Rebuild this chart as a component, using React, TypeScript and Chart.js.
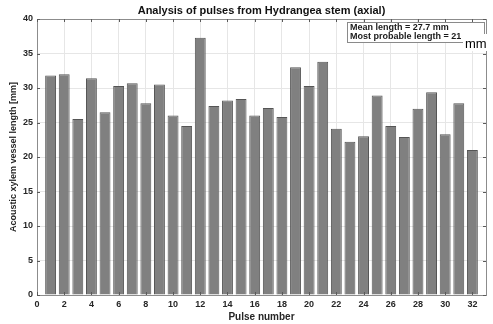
import React, { useEffect, useRef } from "react";
import { Chart, registerables } from "chart.js";

Chart.register(...registerables);

// ---- data ----
const pulseNumbers = [
  1, 2, 3, 4, 5, 6, 7, 8, 9, 10, 11, 12, 13, 14, 15, 16,
  17, 18, 19, 20, 21, 22, 23, 24, 25, 26, 27, 28, 29, 30, 31, 32,
];
const vesselLengths = [
  31.8, 32.0, 25.5, 31.4, 26.5, 30.3, 30.7, 27.8, 30.5, 26.0, 24.5, 37.3, 27.4, 28.2, 28.4, 26.0,
  27.1, 25.8, 33.0, 30.3, 33.8, 24.1, 22.2, 23.0, 28.9, 24.5, 22.9, 27.0, 29.4, 23.3, 27.8, 21.0,
];
const xMin = 0;
const xMax = 33;
const xStep = 2;
const yMin = 0;
const yMax = 40;
const yStep = 5;
const titleText = "Analysis of pulses from Hydrangea stem (axial)";
const xAxisTitle = "Pulse number";
const yAxisTitle = "Acoustic xylem vessel length [mm]";
const infoLine1 = "Mean length = 27.7 mm";
const infoLine2 = "Most probable length = 21 mm";
const overlayUnit = "mm";

const FONT = "'Liberation Sans', Arial, sans-serif";

const titlePlugin = {
  id: "plotTitle",
  afterDraw(chart: any) {
    const { ctx, chartArea } = chart;
    ctx.save();
    ctx.fillStyle = "#111111";
    ctx.font = `bold 11px ${FONT}`;
    ctx.textAlign = "center";
    ctx.textBaseline = "middle";
    ctx.fillText(titleText, (chartArea.left + chartArea.right) / 2, chartArea.top - 8);
    ctx.restore();
  },
};

const framePlugin = {
  id: "frameTicks",
  afterDatasetsDraw(chart: any) {
    const { ctx, chartArea } = chart;
    const { left, right, top, bottom } = chartArea;
    const xs = chart.scales.x;
    const ys = chart.scales.y;
    ctx.save();
    ctx.strokeStyle = "#8c8c8c";
    ctx.lineWidth = 1;
    ctx.strokeRect(Math.round(left) + 0.5, Math.round(top) + 0.5, Math.round(right - left), Math.round(bottom - top));
    ctx.strokeStyle = "#5a5a5a";
    ctx.beginPath();
    const tl = 3;
    xs.ticks.forEach((t: any) => {
      const px = Math.round(xs.getPixelForValue(t.value)) + 0.5;
      ctx.moveTo(px, bottom);
      ctx.lineTo(px, bottom - tl);
      ctx.moveTo(px, top);
      ctx.lineTo(px, top + tl);
    });
    ys.ticks.forEach((t: any) => {
      const py = Math.round(ys.getPixelForValue(t.value)) + 0.5;
      ctx.moveTo(left, py);
      ctx.lineTo(left + tl, py);
      ctx.moveTo(right, py);
      ctx.lineTo(right - tl, py);
    });
    ctx.stroke();
    ctx.restore();
  },
};

const infoPlugin = {
  id: "infoBox",
  afterDraw(chart: any) {
    const { ctx, chartArea } = chart;
    const boxRight = chartArea.right - 2;
    const boxTop = chartArea.top + 3;
    const boxW = 137;
    const boxH = 20;
    const boxLeft = boxRight - boxW;
    ctx.save();
    ctx.fillStyle = "#ffffff";
    ctx.fillRect(boxLeft, boxTop, boxW, boxH);
    ctx.strokeStyle = "#8a8a8a";
    ctx.lineWidth = 1;
    ctx.strokeRect(Math.round(boxLeft) + 0.5, Math.round(boxTop) + 0.5, boxW, boxH);
    ctx.fillStyle = "#1a1a1a";
    ctx.font = `bold 9px ${FONT}`;
    ctx.textBaseline = "middle";
    ctx.textAlign = "left";
    ctx.fillText(infoLine1, boxLeft + 3, boxTop + 5.5);
    ctx.fillText(infoLine2, boxLeft + 3, boxTop + 15);
    // pasted unit label overlay
    const ox = boxLeft + 116;
    const oy = boxTop + 12;
    ctx.fillStyle = "#ffffff";
    ctx.fillRect(ox, oy, 493 - ox, 17);
    ctx.fillStyle = "#000000";
    ctx.font = `13px ${FONT}`;
    ctx.textBaseline = "middle";
    ctx.fillText(overlayUnit, ox + 2, oy + 10);
    ctx.restore();
  },
};

export default function App() {
  const ref = useRef<HTMLCanvasElement | null>(null);
  useEffect(() => {
    if (!ref.current) return;
    const chart = new Chart(ref.current, {
      type: "bar",
      data: {
        datasets: [
          {
            data: pulseNumbers.map((p, i) => ({ x: p, y: vesselLengths[i] })),
            backgroundColor: "#808080",
            borderColor: "#555555",
            borderWidth: 1,
            barPercentage: 0.8,
            categoryPercentage: 1,
          },
        ],
      },
      options: {
        responsive: false,
        animation: false,
        layout: { padding: { left: 0, right: 7, top: 19, bottom: 0 } },
        plugins: {
          legend: { display: false },
          tooltip: { enabled: false },
          title: { display: false },
        },
        scales: {
          x: {
            type: "linear",
            min: xMin,
            max: xMax,
            offset: false,
            grid: { color: "#e6e6e6", drawTicks: false, offset: false },
            border: { display: false },
            ticks: {
              stepSize: xStep,
              includeBounds: false,
              autoSkip: false,
              maxRotation: 0,
              padding: 4,
              color: "#262626",
              font: { family: FONT, size: 9, weight: "bold" },
            },
            title: {
              display: true,
              text: xAxisTitle,
              color: "#262626",
              font: { family: FONT, size: 10, weight: "bold", lineHeight: 1.2 },
              padding: { top: 0, bottom: 1 },
            },
            afterFit: (s: any) => {
              s.height = 29;
            },
          },
          y: {
            min: yMin,
            max: yMax,
            grid: { color: "#e6e6e6", drawTicks: false },
            border: { display: false },
            ticks: {
              stepSize: yStep,
              padding: 4,
              color: "#262626",
              font: { family: FONT, size: 9, weight: "bold" },
            },
            title: {
              display: true,
              text: yAxisTitle,
              color: "#262626",
              font: { family: FONT, size: 9, weight: "bold", lineHeight: 1.2 },
              padding: { top: 8, bottom: 0 },
            },
            afterFit: (s: any) => {
              s.width = 37;
            },
          },
        },
      },
      plugins: [framePlugin, infoPlugin, titlePlugin],
    } as any);
    return () => chart.destroy();
  }, []);
  return (
    <div style={{ position: "fixed", left: 0, top: 0, width: 493, height: 324, background: "#ffffff" }}>
      <canvas ref={ref} width={493} height={324} style={{ display: "block" }} />
    </div>
  );
}
